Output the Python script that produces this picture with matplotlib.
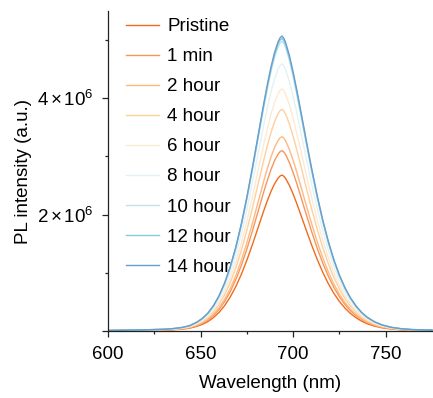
import matplotlib
matplotlib.use("Agg")
import matplotlib.pyplot as plt
from matplotlib.ticker import FixedLocator, FixedFormatter

plt.rcParams['font.family'] = ['Liberation Sans', 'DejaVu Sans']
plt.rcParams['mathtext.fontset'] = 'custom'
plt.rcParams['mathtext.rm'] = 'Liberation Sans'
plt.rcParams['mathtext.it'] = 'Liberation Sans:italic'

# Wavelength grid (nm)
wavelength = [600, 610, 620, 630, 635, 640, 644, 648, 651, 654, 657, 660, 663, 666, 669, 672, 675, 678,
              681, 684, 686, 688, 690, 692, 693, 694, 695, 696, 698, 700, 702, 704, 707, 710, 713, 716,
              719, 722, 725, 728, 731, 734, 737, 740, 744, 748, 753, 758, 764, 770, 775]

# PL intensity in units of 1e6 (a.u.)
pristine = [0.005, 0.008, 0.011, 0.016, 0.021, 0.032, 0.048, 0.080, 0.115, 0.163, 0.232, 0.321, 0.438,
            0.584, 0.762, 0.974, 1.218, 1.487, 1.772, 2.057, 2.236, 2.398, 2.534, 2.634, 2.666, 2.680,
            2.658, 2.617, 2.500, 2.352, 2.185, 2.008, 1.738, 1.474, 1.229, 1.007, 0.812, 0.646, 0.506,
            0.392, 0.299, 0.226, 0.168, 0.124, 0.083, 0.055, 0.034, 0.021, 0.013, 0.010, 0.008]
min1 = [0.006, 0.009, 0.012, 0.019, 0.025, 0.037, 0.056, 0.093, 0.133, 0.189, 0.268, 0.372, 0.506,
        0.675, 0.882, 1.127, 1.409, 1.721, 2.050, 2.379, 2.586, 2.774, 2.932, 3.047, 3.084, 3.100,
        3.075, 3.027, 2.891, 2.720, 2.528, 2.323, 2.010, 1.705, 1.421, 1.165, 0.940, 0.747, 0.586,
        0.453, 0.346, 0.261, 0.195, 0.144, 0.096, 0.064, 0.039, 0.025, 0.016, 0.012, 0.009]
hour2 = [0.007, 0.010, 0.013, 0.020, 0.027, 0.040, 0.060, 0.100, 0.144, 0.204, 0.289, 0.400, 0.545,
         0.727, 0.950, 1.214, 1.518, 1.854, 2.208, 2.563, 2.787, 2.989, 3.159, 3.283, 3.322, 3.340,
         3.313, 3.262, 3.115, 2.931, 2.723, 2.503, 2.166, 1.837, 1.531, 1.255, 1.012, 0.805, 0.631,
         0.488, 0.373, 0.282, 0.210, 0.155, 0.104, 0.068, 0.042, 0.027, 0.017, 0.013, 0.010]
hour4 = [0.008, 0.011, 0.015, 0.023, 0.030, 0.046, 0.069, 0.114, 0.164, 0.232, 0.329, 0.457, 0.622,
         0.830, 1.084, 1.385, 1.732, 2.115, 2.519, 2.924, 3.179, 3.409, 3.603, 3.745, 3.790, 3.810,
         3.779, 3.721, 3.554, 3.343, 3.107, 2.855, 2.470, 2.096, 1.747, 1.431, 1.155, 0.918, 0.720,
         0.557, 0.426, 0.321, 0.239, 0.176, 0.118, 0.078, 0.048, 0.030, 0.019, 0.014, 0.011]
hour6 = [0.008, 0.012, 0.017, 0.025, 0.033, 0.050, 0.075, 0.125, 0.179, 0.254, 0.359, 0.499, 0.679,
         0.906, 1.183, 1.513, 1.891, 2.309, 2.751, 3.192, 3.471, 3.722, 3.934, 4.089, 4.138, 4.160,
         4.126, 4.062, 3.880, 3.650, 3.392, 3.118, 2.697, 2.288, 1.907, 1.563, 1.261, 1.003, 0.786,
         0.608, 0.465, 0.351, 0.261, 0.193, 0.129, 0.085, 0.052, 0.033, 0.021, 0.016, 0.012]
hour8 = [0.009, 0.014, 0.018, 0.028, 0.037, 0.055, 0.083, 0.138, 0.197, 0.280, 0.397, 0.550, 0.750,
         1.000, 1.305, 1.669, 2.086, 2.548, 3.035, 3.522, 3.829, 4.107, 4.341, 4.512, 4.566, 4.590,
         4.553, 4.482, 4.281, 4.028, 3.743, 3.440, 2.976, 2.525, 2.104, 1.724, 1.391, 1.106, 0.867,
         0.671, 0.513, 0.387, 0.288, 0.213, 0.142, 0.094, 0.057, 0.037, 0.023, 0.017, 0.014]
hour10 = [0.010, 0.015, 0.020, 0.030, 0.040, 0.060, 0.090, 0.149, 0.214, 0.304, 0.430, 0.597, 0.813,
          1.085, 1.416, 1.811, 2.263, 2.764, 3.293, 3.822, 4.155, 4.456, 4.710, 4.895, 4.954, 4.980,
          4.940, 4.863, 4.645, 4.370, 4.061, 3.732, 3.229, 2.740, 2.283, 1.871, 1.509, 1.200, 0.941,
          0.728, 0.556, 0.420, 0.313, 0.231, 0.154, 0.102, 0.062, 0.040, 0.025, 0.019, 0.015]
hour12 = [0.010, 0.015, 0.020, 0.030, 0.040, 0.060, 0.091, 0.151, 0.216, 0.307, 0.435, 0.603, 0.821,
          1.096, 1.431, 1.829, 2.286, 2.792, 3.326, 3.860, 4.197, 4.501, 4.757, 4.945, 5.003, 5.030,
          4.989, 4.912, 4.692, 4.414, 4.102, 3.770, 3.262, 2.767, 2.306, 1.890, 1.525, 1.212, 0.950,
          0.735, 0.562, 0.424, 0.316, 0.233, 0.156, 0.103, 0.063, 0.040, 0.025, 0.019, 0.015]
hour14 = [0.010, 0.015, 0.020, 0.030, 0.041, 0.061, 0.091, 0.152, 0.218, 0.309, 0.438, 0.608, 0.828,
          1.104, 1.442, 1.843, 2.304, 2.814, 3.352, 3.891, 4.230, 4.537, 4.795, 4.984, 5.043, 5.070,
          5.029, 4.951, 4.729, 4.449, 4.134, 3.800, 3.287, 2.789, 2.324, 1.905, 1.537, 1.222, 0.958,
          0.741, 0.566, 0.427, 0.318, 0.235, 0.157, 0.104, 0.063, 0.041, 0.025, 0.019, 0.015]

labels = ['Pristine', '1 min', '2 hour', '4 hour', '6 hour', '8 hour', '10 hour', '12 hour', '14 hour']
series = [pristine, min1, hour2, hour4, hour6, hour8, hour10, hour12, hour14]
colors = ['#F26A1B', '#F7965C', '#FCB982', '#FDD09E', '#FDEAD2', '#E2F2F5',
          '#BEE3ED', '#86C8DC', '#6A9ECB']

yticks_major = [0, 2e6, 4e6]
ytick_labels = ['', r'$2\,{\times}\,10^{6}$', r'$4\,{\times}\,10^{6}$']
yticks_minor = [1e6, 3e6, 5e6]
xticks_major = [600, 650, 700, 750]
xticks_minor = [625, 675, 725]

FS = 13.5
fig = plt.figure(figsize=(4.33, 3.98), dpi=100)
ax = fig.add_axes([108/433, 1 - 331/398, 1 - 108/433, (331 - 11)/398])

for s, lab, c in zip(series, labels, colors):
    ax.plot(wavelength, [v * 1e6 for v in s], color=c, lw=1.0, label=lab)

ax.set_xlim(600, 775.5)
ax.set_ylim(0, 5.5e6)
ax.spines['top'].set_visible(False)
ax.spines['right'].set_visible(False)
for sp in ax.spines.values():
    sp.set_linewidth(0.9)
    sp.set_color('#222222')

ax.yaxis.set_major_locator(FixedLocator(yticks_major))
ax.yaxis.set_major_formatter(FixedFormatter(ytick_labels))
ax.yaxis.set_minor_locator(FixedLocator(yticks_minor))
ax.xaxis.set_major_locator(FixedLocator(xticks_major))
ax.xaxis.set_minor_locator(FixedLocator(xticks_minor))
ax.tick_params(which='major', direction='out', length=4.5, width=0.9, labelsize=FS, color='#222222')
ax.tick_params(which='minor', direction='out', length=2.2, width=0.9, color='#222222')
ax.tick_params(axis='x', which='major', pad=6)
ax.tick_params(axis='y', which='major', pad=6)

ax.set_xlabel('Wavelength (nm)', fontsize=FS, labelpad=9)
ax.set_ylabel('PL intensity (a.u.)', fontsize=FS, labelpad=4)

leg = ax.legend(loc='upper left', bbox_to_anchor=(126/433, 1 - 18/398),
                bbox_transform=fig.transFigure, frameon=False, fontsize=FS,
                handlelength=1.75, handletextpad=0.45, labelspacing=0.69,
                borderpad=0, borderaxespad=0)

fig.savefig('out.png', dpi=100)
